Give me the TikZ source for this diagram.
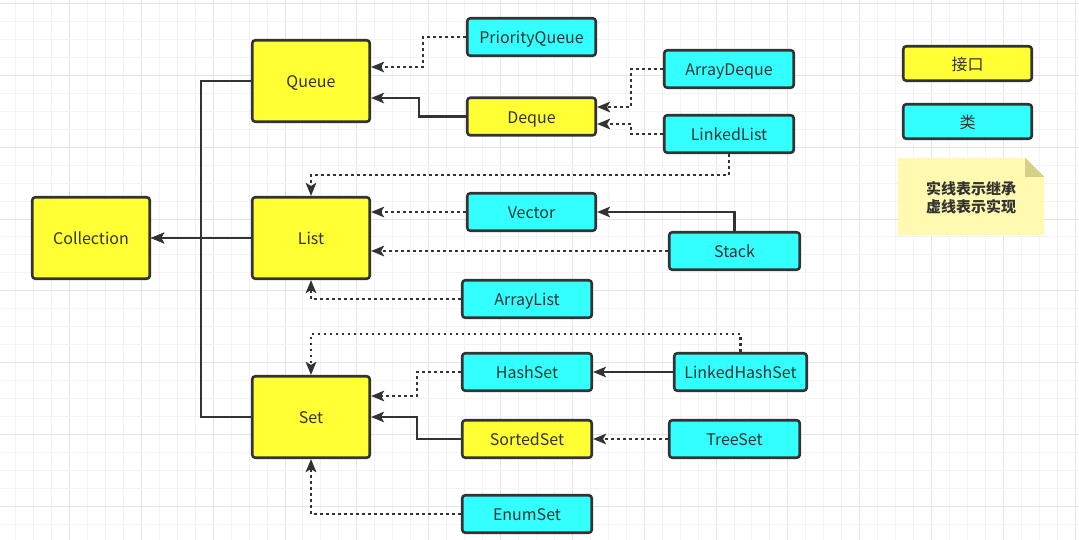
\documentclass[tikz,border=0pt]{standalone}
\usepackage{fontspec}
\setmainfont{Noto Sans CJK SC}
\usetikzlibrary{arrows.meta}
\definecolor{ifill}{HTML}{FFFF33}
\definecolor{cfill}{HTML}{33FFFF}
\definecolor{ink}{HTML}{333333}
\definecolor{gridminor}{HTML}{F3F3F3}
\definecolor{gridmajor}{HTML}{E4E4E4}
\definecolor{notefill}{HTML}{FFFAAF}
\definecolor{notefold}{HTML}{D6CF86}

\begin{document}
\begin{tikzpicture}[x=1pt,y=-1pt,
  box/.style={draw=ink, line width=2.6pt, rounded corners=3pt, text=ink,
    font=\fontsize{16}{19}\selectfont, inner sep=0pt,
    text height=15pt, text depth=1.5pt},
  iface/.style={box, fill=ifill},
  cls/.style={box, fill=cfill},
  big/.style={minimum width=117.5pt, minimum height=81.5pt},
  small/.style={minimum width=#1, minimum height=37.5pt},
  small/.default=128.5pt,
  tip/.style={-{Stealth[length=13pt,width=10.5pt,inset=3pt]}},
  inherit/.style={draw=ink, line width=2.2pt, tip},
  realize/.style={draw=ink, line width=2.6pt, dash pattern=on 2.6pt off 3.4pt, tip},
]
\useasboundingbox (0,0) rectangle (1079,540);
\fill[white] (0,0) rectangle (1079,540);

% background grid: light minor lines, slightly darker every fourth line
\foreach \i in {0,...,59} {
  \pgfmathsetmacro{\gx}{15.6+17.96*\i}
  \pgfmathtruncatemacro{\isMajor}{mod(\i,4)==3}
  \ifnum\isMajor=1
    \draw[gridmajor, line width=1pt] (\gx,0) -- (\gx,540);
  \else
    \draw[gridminor, line width=1pt] (\gx,0) -- (\gx,540);
  \fi
}
\foreach \j in {0,...,30} {
  \pgfmathsetmacro{\gy}{3.5+17.96*\j}
  \pgfmathtruncatemacro{\isMajor}{mod(\j,4)==0}
  \ifnum\isMajor=1
    \draw[gridmajor, line width=1pt] (0,\gy) -- (1079,\gy);
  \else
    \draw[gridminor, line width=1pt] (0,\gy) -- (1079,\gy);
  \fi
}

% interfaces and classes
\node[iface, big] (collection) at (91,238) {Collection};
\node[iface, big] (queue) at (311,81) {Queue};
\node[iface, big] (list) at (311,238) {List};
\node[iface, big] (set) at (311,417) {Set};

\node[cls, small] (pq) at (531.5,37) {PriorityQueue};
\node[iface, small] (deque) at (531.5,116.5) {Deque};
\node[cls, small=129.5pt] (arraydeque) at (729,69) {ArrayDeque};
\node[cls, small=129.5pt] (linkedlist) at (729,134) {LinkedList};
\node[cls, small] (vector) at (531.5,212) {Vector};
\node[cls, small=130.5pt] (stack) at (734.5,251) {Stack};
\node[cls, small=129.5pt] (arraylist) at (527,299) {ArrayList};
\node[cls, small=129.5pt] (hashset) at (527,372) {HashSet};
\node[cls, small=132.5pt] (lhs) at (740.5,372) {LinkedHashSet};
\node[iface, small=129.5pt] (sortedset) at (527,439) {SortedSet};
\node[cls, small=130.5pt] (treeset) at (734.5,439) {TreeSet};
\node[cls, small=129.5pt] (enumset) at (527,514) {EnumSet};

% legend
\node[iface, minimum width=128.5pt, minimum height=34.5pt] (legi) at (967.5,63.5) {接口};
\node[cls, minimum width=128.5pt, minimum height=34.5pt] (legc) at (967.5,121.5) {类};
\node[minimum width=146pt, minimum height=77pt, inner sep=0pt] (note) at (971,196.5) {};
\fill[notefill] (note.north west) -- ([xshift=-19pt]note.north east)
  -- ([yshift=-19pt]note.north east) -- (note.south east) -- (note.south west) -- cycle;
\fill[notefold] ([xshift=-19pt]note.north east) -- ([yshift=-19pt]note.north east)
  -- ([xshift=-19pt,yshift=-19pt]note.north east) -- cycle;
\node[text=ink, align=center, font=\fontsize{15}{18}\selectfont\bfseries] (notetext)
  at ([yshift=-1.5pt]note.center) {实线表示继承\\虚线表示实现};

% Collection hierarchy
\draw[inherit] (queue.west) -| (201,238) -- (collection.east);
\draw[inherit] (set.west) -| (201,238) -- (collection.east);
\draw[inherit] (list.west) -- (collection.east);

% Queue branch
\draw[realize] (pq.west) -| (423,67) -- (queue.east |- 0,67);
\draw[inherit] (deque.west) -| (419,98) -- (queue.east |- 0,98);
\draw[realize] (arraydeque.west) -| (631,107) -- (deque.east |- 0,107);
\draw[realize] (linkedlist.west) -| (631,124) -- (deque.east |- 0,124);

% List branch
\draw[realize] (linkedlist.south) |- (list.north |- 0,175) -- (list.north);
\draw[realize] (vector.west) -- (list.east |- vector.west);
\draw[inherit] (stack.north) |- (vector.east);
\draw[realize] (stack.west) -- (list.east |- stack.west);
\draw[realize] (arraylist.west) -| (list.south);

% Set branch
\draw[realize] (lhs.north) |- (set.north |- 0,334) -- (set.north);
\draw[realize] (hashset.west) -| (417,396) -- (set.east |- 0,396);
\draw[inherit] (lhs.west) -- (hashset.east);
\draw[inherit] (sortedset.west) -| (417,417) -- (set.east);
\draw[realize] (treeset.west) -- (sortedset.east);
\draw[realize] (enumset.west) -| (set.south);
\end{tikzpicture}
\end{document}
